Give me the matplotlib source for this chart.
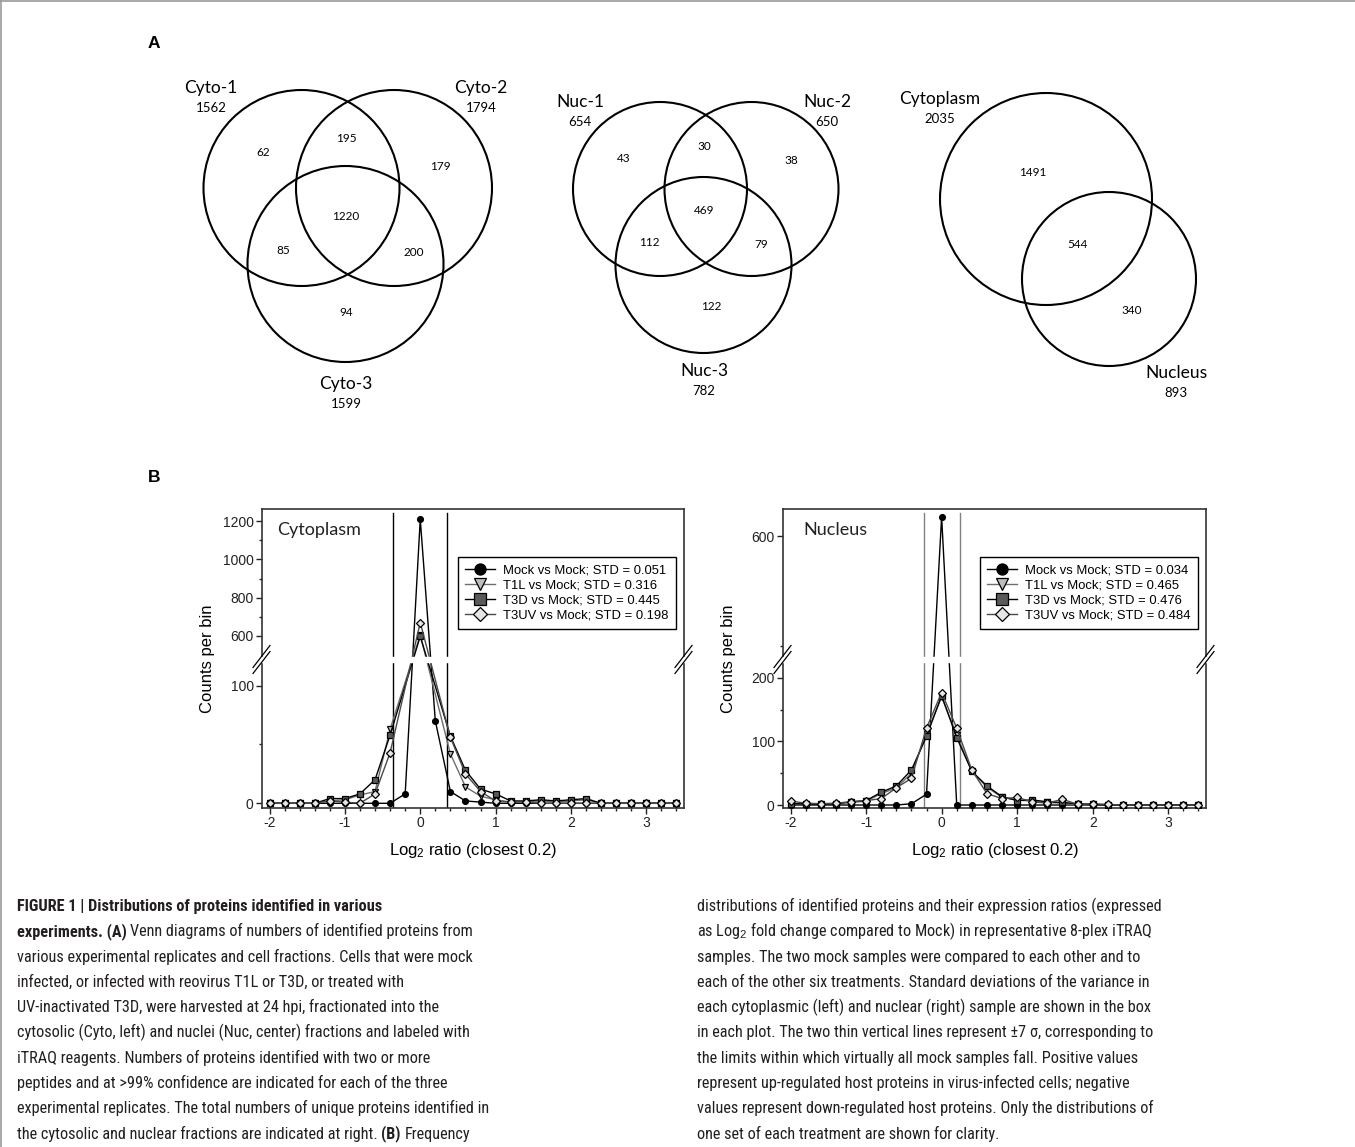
import numpy as np
import matplotlib
matplotlib.use('Agg')
import matplotlib.pyplot as plt
from matplotlib import font_manager
from matplotlib.patches import Circle

plt.rcParams['font.family'] = ['Liberation Sans', 'DejaVu Sans']
plt.rcParams['axes.unicode_minus'] = False
plt.rcParams['mathtext.fontset'] = 'custom'
plt.rcParams['mathtext.rm'] = 'Liberation Sans'
plt.rcParams['mathtext.it'] = 'Liberation Sans:italic'

W, H = 1355, 1147

# ---- panel A: Venn counts ----
cyto_names = ['Cyto-1', 'Cyto-2', 'Cyto-3']
cyto_totals = [1562, 1794, 1599]
# regions: 1 only, 1&2, 2 only, all, 1&3, 2&3, 3 only
cyto_regions = [62, 195, 179, 1220, 85, 200, 94]

nuc_names = ['Nuc-1', 'Nuc-2', 'Nuc-3']
nuc_totals = [654, 650, 782]
nuc_regions = [43, 30, 38, 469, 112, 79, 122]

frac_names = ['Cytoplasm', 'Nucleus']
frac_totals = [2035, 893]
frac_regions = [1491, 544, 340]

# ---- panel B: frequency distributions ----
bins = [-2.0, -1.8, -1.6, -1.4, -1.2, -1.0, -0.8, -0.6, -0.4, -0.2, 0.0, 0.2, 0.4, 0.6,
        0.8, 1.0, 1.2, 1.4, 1.6, 1.8, 2.0, 2.2, 2.4, 2.6, 2.8, 3.0, 3.2, 3.4]
nan = np.nan
# cytoplasm (bins inside the axis break are not drawn)
cyto_mock = [0, 0, 0, 0, 0, 0, 0, 0, 0, 8, 1210, 70, 10, 2, 1, 0, 0, 0, 0, 0, 0, 0, 0, 0, 0, 0, 0, 0]
cyto_t1l = [0, 0, 0, 0, 2, 3, 7, 10, 63, nan, 605, nan, 42, 14, 6, 3, 1, 1, 2, 1, 2, 3, 0, 0, 0, 0, 0, 0]
cyto_t3d = [0, 0, 0, 0, 4, 4, 8, 20, 58, nan, 598, nan, 57, 28, 12, 8, 2, 2, 3, 2, 3, 4, 0, 0, 0, 0, 0, 0]
cyto_t3uv = [0, 0, 0, 0, 2, 1, 0, 8, 43, nan, 670, nan, 56, 25, 10, 2, 1, 1, 0, 0, 0, 0, 0, 0, 0, 0, 0, 0]
cyto_std = [0.051, 0.316, 0.445, 0.198]
# nucleus
nuc_mock = [0, 0, 0, 0, 0, 0, 0, 0, 2, 17, 618, 0, 0, 0, 0, 0, 0, 0, 0, 0, 0, 0, 0, 0, 0, 0, 0, 0]
nuc_t1l = [2, 2, 1, 2, 4, 6, 18, 27, 50, 112, 170, 110, 53, 28, 12, 8, 6, 4, 3, 1, 1, 0, 0, 0, 0, 0, 0, 0]
nuc_t3d = [2, 2, 1, 2, 5, 7, 20, 30, 55, 108, 172, 106, 53, 30, 13, 7, 8, 5, 4, 2, 1, 0, 0, 0, 0, 0, 0, 0]
nuc_t3uv = [6, 3, 2, 3, 5, 7, 10, 27, 42, 121, 177, 121, 55, 18, 10, 12, 5, 3, 9, 1, 2, 1, 0, 0, 0, 0, 0, 0]
nuc_std = [0.034, 0.465, 0.476, 0.484]

series_names = ['Mock vs Mock', 'T1L vs Mock', 'T3D vs Mock', 'T3UV vs Mock']

caption_left = [
    [('FIGURE 1 | Distributions of proteins identified in various', True)],
    [('experiments. (A)', True), ('Venn diagrams of numbers of identified proteins from', False)],
    [('various experimental replicates and cell fractions. Cells that were mock', False)],
    [('infected, or infected with reovirus T1L or T3D, or treated with', False)],
    [('UV-inactivated T3D, were harvested at 24 hpi, fractionated into the', False)],
    [('cytosolic (Cyto, left) and nuclei (Nuc, center) fractions and labeled with', False)],
    [('iTRAQ reagents. Numbers of proteins identified with two or more', False)],
    [('peptides and at >99% confidence are indicated for each of the three', False)],
    [('experimental replicates. The total numbers of unique proteins identified in', False)],
    [('the cytosolic and nuclear fractions are indicated at right.', False), ('(B)', True),
     ('Frequency', False)],
]
caption_right = [
    [('distributions of identified proteins and their expression ratios (expressed', False)],
    [('as Log$_2$ fold change compared to Mock) in representative 8-plex iTRAQ', False)],
    [('samples. The two mock samples were compared to each other and to', False)],
    [('each of the other six treatments. Standard deviations of the variance in', False)],
    [('each cytoplasmic (left) and nuclear (right) sample are shown in the box', False)],
    [('in each plot. The two thin vertical lines represent \u00b17 \u03c3, corresponding to', False)],
    [('the limits within which virtually all mock samples fall. Positive values', False)],
    [('represent up-regulated host proteins in virus-infected cells; negative', False)],
    [('values represent down-regulated host proteins. Only the distributions of', False)],
    [('one set of each treatment are shown for clarity.', False)],
]

venn_font = ['Lato', 'DejaVu Sans']

# narrow font for the caption if one is installed
have = {(f.name, f.stretch) for f in font_manager.fontManager.ttflist}
cap_font, cap_stretch = ['Liberation Sans', 'DejaVu Sans'], 'normal'
for fam, stretch in [('Liberation Sans Narrow', 'normal'), ('Liberation Sans Narrow', 'condensed'),
                     ('Roboto Condensed', 'normal'), ('Roboto Condensed', 'condensed'),
                     ('DejaVu Sans', 'condensed'), ('DejaVu Sans', 'semi-condensed')]:
    if (fam, stretch) in have:
        cap_font, cap_stretch = [fam, 'DejaVu Sans'], stretch
        break

fig = plt.figure(figsize=(W / 100, H / 100), dpi=100)
ax0 = fig.add_axes([0, 0, 1, 1])
ax0.set_xlim(0, W)
ax0.set_ylim(H, 0)
ax0.axis('off')

# frame lines of the figure
ax0.plot([1, 1], [0, H], color='#9a9a9a', lw=1.2)
ax0.plot([0, W], [1, 1], color='#9a9a9a', lw=1.2)

ax0.text(154, 43, 'A', fontsize=12.5, fontweight='bold', ha='center', va='center')
ax0.text(154, 477, 'B', fontsize=12.5, fontweight='bold', ha='center', va='center')


def venn(centers, radii, regions, region_xy, names, totals, name_xy):
    for (cx, cy), r in zip(centers, radii):
        ax0.add_patch(Circle((cx, cy), r, fill=False, lw=1.5, ec='black'))
    for v, (x, y) in zip(regions, region_xy):
        ax0.text(x, y, str(v), fontsize=8.5, ha='center', va='center', family=venn_font)
    for n, t, (x, y) in zip(names, totals, name_xy):
        ax0.text(x, y, n, fontsize=12.5, ha='center', va='center', family=venn_font)
        ax0.text(x, y + 20, str(t), fontsize=9.5, ha='center', va='center', family=venn_font)


venn([(301.5, 188), (394, 188), (345.5, 264)], [98, 98, 98], cyto_regions,
     [(263, 152), (346, 138), (440, 166), (346, 217), (283, 250), (414, 252), (346, 313)],
     cyto_names, cyto_totals, [(211, 88), (481, 88), (346, 384)])
venn([(660, 189), (751.5, 189), (703.5, 265)], [87, 87, 88], nuc_regions,
     [(624, 159), (704, 146), (791, 160), (704, 210), (649, 243), (761, 244), (711, 306)],
     nuc_names, nuc_totals, [(580, 102), (827, 102), (704, 371)])
venn([(1046, 199), (1109, 279)], [106, 87], frac_regions,
     [(1033, 173), (1078, 245), (1132, 311)],
     frac_names, frac_totals, [(940, 99), (1176, 373)])


def _lin(v, xp, fp):
    v = np.asarray(v, dtype=float)
    out = np.interp(v, xp, fp)
    lo_slope = (fp[1] - fp[0]) / (xp[1] - xp[0])
    hi_slope = (fp[-1] - fp[-2]) / (xp[-1] - xp[-2])
    out = np.where(v < xp[0], fp[0] + (v - xp[0]) * lo_slope, out)
    out = np.where(v > xp[-1], fp[-1] + (v - xp[-1]) * hi_slope, out)
    return out


def dist_panel(box, title, values, stds, brk, major, minor, sig_color):
    l, t, r, b = box
    ax = fig.add_axes([l / W, 1 - b / H, (r - l) / W, (b - t) / H])
    ylo, y1, y2, yhi = brk
    h1, g, h2 = 146, 5, b - t - 151
    dpts = [ylo, y1, y2, yhi]
    spts = [0, h1, h1 + g, h1 + g + h2]
    ax.set_yscale('function', functions=(lambda v: _lin(v, dpts, spts),
                                         lambda v: _lin(v, spts, dpts)))
    ax.set_ylim(ylo, yhi)
    ax.set_xlim(-2.1, 3.5)

    lim = 7 * stds[0]
    for xv in (-lim, lim):
        ax.axvline(xv, ymin=0.0, ymax=0.986, color=sig_color, lw=1.0, zorder=1)

    styles = [dict(marker='o', mfc='black', color='black'),
              dict(marker='v', mfc='#bdbdbd', color='#6e6e6e'),
              dict(marker='s', mfc='#5a5a5a', color='black'),
              dict(marker='D', mfc='#e6e6e6', color='#4a4a4a')]
    x = np.array(bins)
    handles = []
    for vals, st in zip(values, styles):
        y = np.array(vals, dtype=float)
        ok = ~np.isnan(y)
        ms = 4.2 if st['marker'] != 'D' else 3.6
        ln, = ax.plot(x[ok], y[ok], lw=1.0, ms=ms, mec='black', mew=0.9, zorder=3, **st)
        handles.append(ln)
    labels = ['%s; STD = %.3f' % (n, s) for n, s in zip(series_names, stds)]

    # axis break: white band plus slashes
    ax.axhspan(y1, y2, xmin=-0.03, xmax=1.03, color='white', zorder=5, clip_on=False)
    w_ax, h_ax = r - l, b - t
    gy = (h1 + g / 2) / h_ax
    for sx in (0, 1):
        for off in (-3.0, 3.0):
            ax.plot([sx - 9 / w_ax, sx + 8 / w_ax],
                    [gy + (off - 11) / h_ax, gy + (off + 11) / h_ax],
                    transform=ax.transAxes, clip_on=False, color='black', lw=0.9, zorder=6)

    ax.set_yticks(major)
    ax.set_yticks(minor, minor=True)
    ax.set_xticks([-2, -1, 0, 1, 2, 3])
    ax.set_xticks(bins, minor=True)
    ax.tick_params(which='both', direction='out', width=1.0, labelsize=10, colors='#222222')
    ax.tick_params(which='major', length=4, pad=2)
    ax.tick_params(which='minor', length=2.5)
    for sp in ax.spines.values():
        sp.set_linewidth(1.2)
        sp.set_color('#333333')

    ax.set_ylabel('Counts per bin', fontsize=12)
    ax.set_xlabel('Log$_2$ ratio (closest 0.2)', fontsize=12)
    ax.yaxis.set_label_coords(-47 / w_ax, 0.5)
    ax.xaxis.set_label_coords(0.5, -33 / h_ax)

    ax.text(0.036 if title == 'Cytoplasm' else 0.047, 0.93, title, transform=ax.transAxes,
            fontsize=13, family=venn_font, color='#222222', va='center', ha='left')

    leg = ax.legend(handles, labels, loc='upper right', bbox_to_anchor=(0.981, 0.839),
                    fontsize=9.4, fancybox=False, edgecolor='black', framealpha=1,
                    markerscale=1.9, handlelength=2.3, labelspacing=0.22, borderpad=0.55,
                    handletextpad=0.6, borderaxespad=0)
    leg.get_frame().set_linewidth(1.0)
    leg.set_zorder(10)
    return ax


dist_panel((262, 509, 684, 808), 'Cytoplasm', [cyto_mock, cyto_t1l, cyto_t3d, cyto_t3uv],
           cyto_std, (-4, 120, 490, 1263), [0, 100, 600, 800, 1000, 1200], [50, 700, 900, 1100],
           'black')
dist_panel((783, 509, 1206, 808), 'Nucleus', [nuc_mock, nuc_t1l, nuc_t3d, nuc_t3uv],
           nuc_std, (-4.7, 225, 490, 625), [0, 100, 200, 600], [50, 150, 500], '#808080')

# ---- caption ----
fig.canvas.draw()
rend = fig.canvas.get_renderer()

# fit the caption size so that one reference line spans its measured width (456 px)
probe = ax0.text(0, 0, caption_left[2][0][0], fontsize=11.5, family=cap_font,
                 fontstretch=cap_stretch)
cap_size = min(12.5, 11.5 * 456 / probe.get_window_extent(rend).width)
probe.remove()


def caption(lines, x0, y0, dy):
    for i, segs in enumerate(lines):
        x = x0
        for txt, bold in segs:
            t = ax0.text(x, y0 + i * dy, txt, fontsize=cap_size, family=cap_font,
                         fontstretch=cap_stretch, fontweight='bold' if bold else 'normal',
                         ha='left', va='baseline', color='#231f20')
            x += t.get_window_extent(rend).width + 0.3 * cap_size


caption(caption_left, 17, 911, 25.3)
caption(caption_right, 697, 911, 25.3)

fig.savefig('out.png', dpi=100)
